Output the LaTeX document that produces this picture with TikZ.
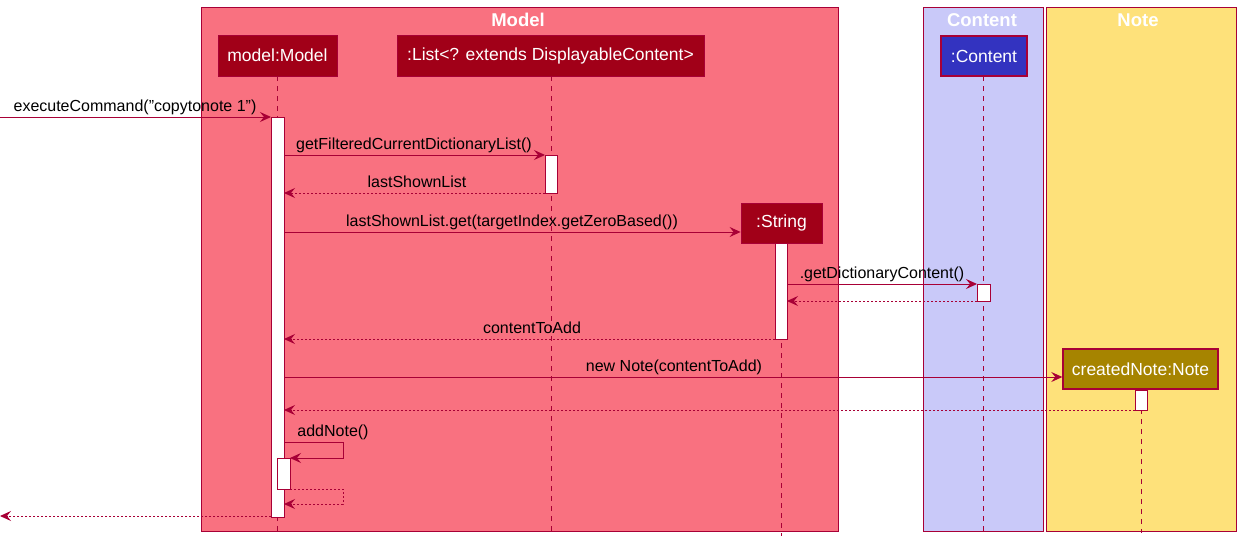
\documentclass[tikz,border=0pt]{standalone}
\usepackage{fontspec}
\setmainfont{Liberation Sans}[Ligatures=NoCommon]
\usetikzlibrary{arrows.meta}
\definecolor{lineRed}{RGB}{168,0,54}
\definecolor{modelBg}{RGB}{249,113,128}
\definecolor{contentBg}{RGB}{201,201,249}
\definecolor{noteBg}{RGB}{254,225,122}
\definecolor{partRed}{RGB}{161,0,24}
\definecolor{partBlue}{RGB}{51,51,192}
\definecolor{partGold}{RGB}{166,132,0}
\tikzset{
  box/.style={draw=lineRed, line width=1pt},
  grouptitle/.style={text=white, font=\fontsize{18.5}{21}\selectfont\bfseries, inner sep=0pt},
  participant/.style={draw=lineRed, line width=0.8pt, text=white, font=\fontsize{17.5}{20}\selectfont, minimum height=41pt, inner sep=0pt},
  lifeline/.style={draw=lineRed, line width=1pt, dash pattern=on 5pt off 5pt},
  activation/.style={draw=lineRed, fill=white, line width=1pt},
  tip/.style={-{Stealth[length=11pt, width=10pt, inset=4pt]}},
  msg/.style={draw=lineRed, line width=1pt, tip},
  ret/.style={draw=lineRed, line width=1pt, tip, dash pattern=on 2pt off 2pt},
  lbl/.style={font=\fontsize{16}{19}\selectfont, inner sep=0pt, anchor=base, text=black},
}
\begin{document}
\begin{tikzpicture}[x=1pt, y=-1pt]
\useasboundingbox (0,0) rectangle (1242,546);
% group boxes
\draw[box, fill=modelBg] (201,7) rectangle (838,531);
\draw[box, fill=contentBg] (923,7) rectangle (1043,531);
\draw[box, fill=noteBg] (1046,7) rectangle (1236,531);
\node[grouptitle] (tModel) at (518,20) {Model};
\node[grouptitle] (tContent) at (982,20) {Content};
\node[grouptitle] (tNote) at (1138,20) {Note};

% lifelines
\coordinate (mTop) at (277,76); \coordinate (mBot) at (277,533);
\coordinate (lTop) at (551,76); \coordinate (lBot) at (551,533);
\coordinate (cTop) at (983,76); \coordinate (cBot) at (983,533);
\coordinate (sTop) at (781,243); \coordinate (sBot) at (781,536);
\coordinate (nTop) at (1141,389); \coordinate (nBot) at (1141,533);
\draw[lifeline] (mTop) -- (mBot);
\draw[lifeline] (lTop) -- (lBot);
\draw[lifeline] (cTop) -- (cBot);
\draw[lifeline] (sTop) -- (sBot);
\draw[lifeline] (nTop) -- (nBot);

% participants
\node[participant, fill=partRed, minimum width=119pt] (model) at (277.5,55.5) {model:Model};
\node[participant, fill=partRed, minimum width=307pt] (list) at (550.5,55.5) {:List<? extends DisplayableContent>};
\node[participant, fill=partBlue, line width=1.6pt, minimum width=86pt, minimum height=40pt] (content) at (984,56) {:Content};
\node[participant, fill=partRed, minimum width=81pt, minimum height=40pt] (string) at (781.5,223) {:String};
\node[participant, fill=partGold, line width=1.4pt, minimum width=155pt, minimum height=40pt] (note) at (1140.5,369) {createdNote:Note};

% activations
\draw[activation] (271,117) rectangle (284,517);
\draw[activation] (545,155) rectangle (557,193);
\draw[activation] (775,243) rectangle (787,339);
\draw[activation] (977,284) rectangle (990,301);
\draw[activation] (1135,390) rectangle (1147,410);
\draw[activation] (277,458) rectangle (290,489);

% anchor points of messages
\coordinate (in0) at (0,117);   \coordinate (in1) at (271,117);
\coordinate (a1) at (284,155);  \coordinate (b1) at (545,155);
\coordinate (a2) at (545,193);  \coordinate (b2) at (284,193);
\coordinate (a3) at (284,232);  \coordinate (b3) at (string.west |- 0,232);
\coordinate (a4) at (787,284);  \coordinate (b4) at (977,284);
\coordinate (a5) at (977,301);  \coordinate (b5) at (787,301);
\coordinate (a6) at (775,339);  \coordinate (b6) at (284,339);
\coordinate (a7) at (284,377);  \coordinate (b7) at (note.west |- 0,377);
\coordinate (a8) at (1135,410); \coordinate (b8) at (284,410);
\coordinate (s1) at (284,442);  \coordinate (s2) at (343,458); \coordinate (s3) at (290,458);
\coordinate (r1) at (290,489);  \coordinate (r2) at (343,504); \coordinate (r3) at (284,504);
\coordinate (out0) at (271,516); \coordinate (out1) at (0,516);

% messages
\draw[msg] (in0) -- (in1);
\node[lbl] (l0) at (135,111) {executeCommand(\symbol{34}copytonote 1\symbol{34})};
\draw[msg] (a1) -- (b1);
\node[lbl] (l1) at (414,149) {getFilteredCurrentDictionaryList()};
\draw[ret] (a2) -- (b2);
\node[lbl] (l2) at (417,187) {lastShownList};
\draw[msg] (a3) -- (b3);
\node[lbl] (l3) at (512,226) {lastShownList.get(targetIndex.getZeroBased())};
\draw[msg] (a4) -- (b4);
\node[lbl] (l4) at (882,278) {.getDictionaryContent()};
\draw[ret] (a5) -- (b5);
\draw[ret] (a6) -- (b6);
\node[lbl] (l6) at (532,333) {contentToAdd};
\draw[msg] (a7) -- (b7);
\node[lbl] (l7) at (674,371) {new Note(contentToAdd)};
\draw[ret] (a8) -- (b8);
\draw[msg] (s1) -- (s1 -| s2) -- (s2) -- (s3);
\node[lbl] (l9) at (333,436) {addNote()};
\draw[ret] (r1) -- (r1 -| r2) -- (r2) -- (r3);
\draw[ret] (out0) -- (out1);
\end{tikzpicture}
\end{document}
